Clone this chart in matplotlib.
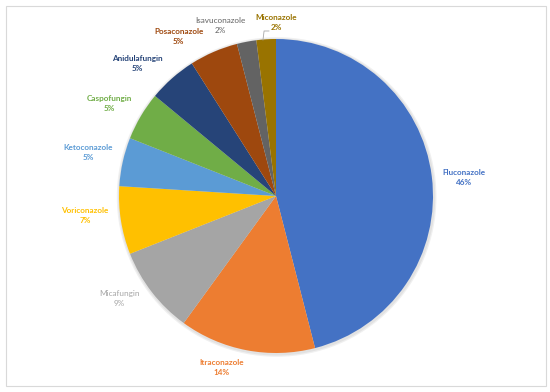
import matplotlib
matplotlib.use("Agg")
import matplotlib.pyplot as plt
from matplotlib.patches import Rectangle, Circle

# antifungal agents, share of total (%)
drugs = ["Fluconazole", "Itraconazole", "Micafungin", "Voriconazole", "Ketoconazole",
         "Caspofungin", "Anidulafungin", "Posaconazole", "Isavuconazole", "Miconazole"]
shares = [46, 14, 9, 7, 5, 5, 5, 5, 2, 2]

# Excel office palette
colors = ["#4472C4", "#ED7D31", "#A5A5A5", "#FFC000", "#5B9BD5",
          "#70AD47", "#264478", "#9E480E", "#636363", "#997300"]

# label centres (pie radius = 1), placed like Excel's "best fit"
label_xy = [(1.20, 0.12), (-0.344, -1.092), (-1.0, -0.656), (-1.217, -0.127),
            (-1.194, 0.28), (-1.062, 0.586), (-0.884, 0.847), (-0.62, 1.013),
            (-0.352, 1.083), (0.0, 1.102)]
light = {"Micafungin", "Isavuconazole"}

fig = plt.figure(figsize=(5.5, 3.92), dpi=100, facecolor="white")
ax = fig.add_axes([0, 0, 1, 1])

# soft shadow behind the pie
for r, c in [(1.018, "#F0F0F0"), (1.01, "#E2E2E2")]:
    ax.add_patch(Circle((0.004, -0.006), r, color=c, lw=0, zorder=0))

wedges, _ = ax.pie(shares, colors=colors, startangle=90, counterclock=False,
                   radius=1, center=(0, 0), wedgeprops=dict(linewidth=0))

for name, val, col, (x, y) in zip(drugs, shares, colors, label_xy):
    ax.text(x, y, f"{name}\n{val}%", ha="center", va="center", color=col,
            fontsize=5.9, family="Lato",
            fontweight="normal" if name in light else "bold", linespacing=1.5)

# leader line for the small Miconazole slice
ax.plot([-0.045, -0.076, -0.083], [1.051, 1.051, 0.994], color="#A6A6A6", lw=0.6)

ax.set_aspect("auto")
ax.set_xlim(-276 / 157, (550 - 276) / 157)
ax.set_ylim(-(392 - 196) / 157, 196 / 157)
ax.axis("off")

# light grey chart frame
fig.patches.append(Rectangle((0.01, 0.015), 0.983, 0.969, transform=fig.transFigure,
                             fill=False, edgecolor="#D9D9D9", linewidth=0.8))

fig.savefig("out.png", dpi=100)
